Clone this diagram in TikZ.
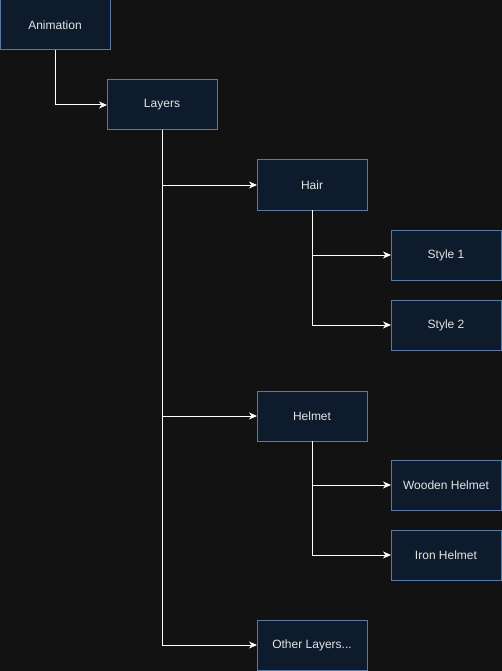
\documentclass[tikz,border=0pt]{standalone}
\usepackage{fontspec}
\setmainfont{Liberation Sans}
\usepackage{xcolor}
\usepackage{tikz}
\usetikzlibrary{arrows.meta,positioning}
\definecolor{pagebg}{HTML}{121212}
\definecolor{boxfill}{HTML}{0E1B2D}
\definecolor{boxline}{HTML}{5A7AA6}
\definecolor{boxtext}{HTML}{E4E4E4}
\tikzstyle{block} = [rectangle, draw=boxline, line width=1pt, fill=boxfill, text=boxtext, minimum width=110pt, minimum height=50pt, inner sep=0pt, outer sep=0pt, align=center, font=\fontsize{12}{14}\selectfont]
\tikzstyle{arrow} = [-{Stealth[length=8pt,width=7pt,inset=2.5pt]}, draw=white, line width=1pt]

\begin{document}
\begin{tikzpicture}[x=1pt,y=-1pt]
\fill[pagebg] (0,0) rectangle (502,671);
\useasboundingbox (0,0) rectangle (502,671);
\node[block] (animation) at (55,25) {Animation};
\node[block, below right=30pt and -3pt of animation] (layers) {Layers};
\node[block, below right=30pt and 40pt of layers] (hair) {Hair};
\node[block, below right=20pt and 24pt of hair] (style1) {Style 1};
\node[block, below=20pt of style1] (style2) {Style 2};
\node[block, below=181pt of hair] (helmet) {Helmet};
\node[block, below right=19pt and 24pt of helmet] (wooden) {Wooden Helmet};
\node[block, below=20pt of wooden] (iron) {Iron Helmet};
\node[block, below=179pt of helmet] (other) {Other Layers...};

\draw[arrow] (animation.south) |- (layers.west);
\draw[arrow] (layers.south) |- (hair.west);
\draw[arrow] (layers.south) |- (helmet.west);
\draw[arrow] (layers.south) |- (other.west);
\draw[arrow] (hair.south) |- (style1.west);
\draw[arrow] (hair.south) |- (style2.west);
\draw[arrow] (helmet.south) |- (wooden.west);
\draw[arrow] (helmet.south) |- (iron.west);
\end{tikzpicture}
\end{document}
